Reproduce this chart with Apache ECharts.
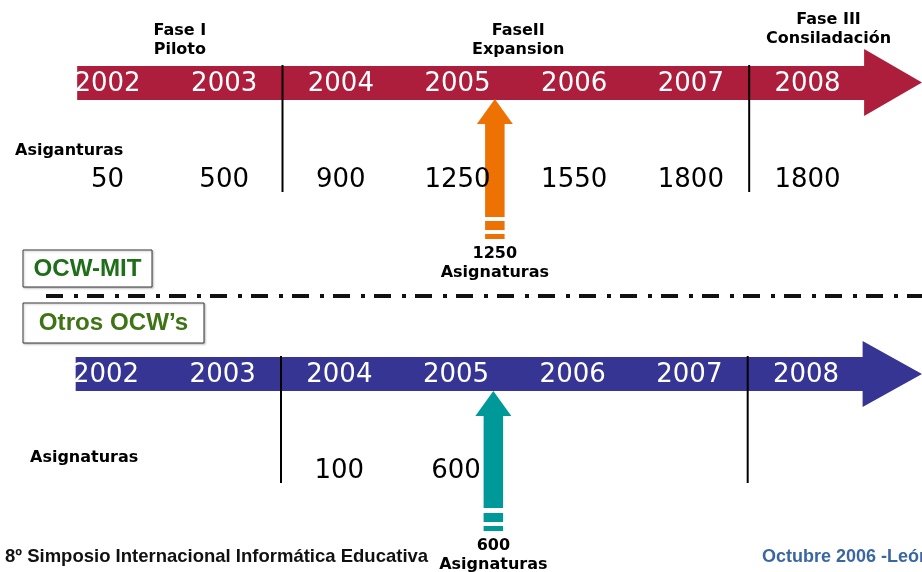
<!DOCTYPE html>
<html><head><meta charset="utf-8">
<script src="https://cdn.jsdelivr.net/npm/echarts@6/dist/echarts.min.js"></script>
<style>html,body{margin:0;padding:0;background:#fff}#c{width:922px;height:572px}</style>
</head><body><div id="c"></div>
<script>
// ---------------- data ----------------
const yearLabels = ['2002', '2003', '2004', '2005', '2006', '2007', '2008'];
const years = [2002, 2003, 2004, 2005, 2006, 2007, 2008];
const mitCourses = [50, 500, 900, 1250, 1550, 1800, 1800];
const otherCourses = [null, null, 100, 600, null, null, null];
const phaseNames = ['Fase I\nPiloto', 'FaseII\nExpansion', 'Fase III\nConsiladación'];
const phaseCenters = [2002.62, 2005.52, 2008.18];
const phaseBreaks = [2003.5, 2007.5];
const highlightYears = [2005.32, 2005.32];
const highlightValues = [1250, 600];
const rowTitles = ['Asiganturas', 'Asignaturas'];
const programmeNames = ['OCW-MIT', 'Otros OCW\u2019s'];
const footerLeft = '8º Simposio Internacional Informática Educativa';
const footerRight = 'Octubre 2006 -León';

// ---------------- layout / style ----------------
const PX_PER_YEAR = 116.67;
const X_MIN = 2002 - 107.5 / PX_PER_YEAR;
const X_MAX = X_MIN + 922 / PX_PER_YEAR;
const FONT = '"DejaVu Sans", Verdana, sans-serif';
const ARIAL = '"Liberation Sans", Arial, sans-serif';
const TRACKS = [
  { color: '#AD1E3C', barTop: 66, barBottom: 100, headTop: 49, headBottom: 116,
    yearY: 84, valueY: 180, divTop: 65, divBottom: 192, shift: 0,
    start: 2001.74, headBase: 2008.485,
    arrowColor: '#EE7203', tip: 99, arrowBase: 124, shaftEnd: 217,
    stripes: [[221, 230], [234, 239]], labelY: 253, titleX: 15, titleY: 151 },
  { color: '#363594', barTop: 357, barBottom: 391, headTop: 341, headBottom: 407,
    yearY: 375, valueY: 471, divTop: 356, divBottom: 483, shift: -1.5,
    start: 2001.74, headBase: 2008.485,
    arrowColor: '#00999A', tip: 391, arrowBase: 416, shaftEnd: 508,
    stripes: [[513, 522], [526, 531]], labelY: 545, titleX: 30, titleY: 458 }
];
const PHASE_Y = [29, 29, 18];
const valueSets = [mitCourses, otherCourses];

function renderTrack(params, api) {
  const t = TRACKS[params.dataIndex];
  const p = (x, y) => { const c = api.coord([x, y]); return [c[0] + t.shift, c[1]]; };
  const tip = api.coord([X_MAX, (t.headTop + t.headBottom) / 2]);
  const children = [{
    type: 'polygon',
    shape: { points: [p(t.start, t.barTop), p(t.headBase, t.barTop), p(t.headBase, t.headTop), tip,
      p(t.headBase, t.headBottom), p(t.headBase, t.barBottom), p(t.start, t.barBottom)] },
    style: { fill: t.color }
  }];
  phaseBreaks.forEach(b => {
    const a = p(b, t.divTop), c = p(b, t.divBottom);
    children.push({ type: 'line', shape: { x1: a[0], y1: a[1], x2: c[0], y2: c[1] },
      style: { stroke: '#000', lineWidth: 2 } });
  });
  return { type: 'group', children };
}

function renderHighlight(params, api) {
  const t = TRACKS[params.dataIndex];
  const year = api.value(0);
  const cx = api.coord([year, 0])[0] + t.shift;
  const y = v => api.coord([year, v])[1];
  const hh = 18, hs = 9.75;
  const children = [{
    type: 'polygon',
    shape: { points: [[cx, y(t.tip)], [cx + hh, y(t.arrowBase)], [cx + hs, y(t.arrowBase)], [cx + hs, y(t.shaftEnd)],
      [cx - hs, y(t.shaftEnd)], [cx - hs, y(t.arrowBase)], [cx - hh, y(t.arrowBase)]] },
    style: { fill: t.arrowColor }
  }];
  t.stripes.forEach(s => children.push({ type: 'rect',
    shape: { x: cx - hs, y: y(s[0]), width: hs * 2, height: y(s[1]) - y(s[0]) }, style: { fill: t.arrowColor } }));
  children.push({ type: 'text', style: { text: api.value(1) + '\nAsignaturas', x: cx, y: y(t.labelY) - 9,
    align: 'center', verticalAlign: 'top', font: 'bold 16px ' + FONT, lineHeight: 19, fill: '#000' } });
  return { type: 'group', children };
}

function textSeries(data, label) {
  return {
    type: 'scatter', data, symbol: 'circle', symbolSize: 1, silent: true,
    itemStyle: { color: 'rgba(0,0,0,0)', opacity: 1 },
    label: Object.assign({ show: true, position: 'inside', formatter: p => p.value[2],
      fontFamily: FONT, fontSize: 26, align: 'center', verticalAlign: 'middle', opacity: 1,
      textBorderWidth: 0 }, label),
    emphasis: { disabled: true }, z: 5
  };
}

const series = [
  { type: 'custom', renderItem: renderTrack, data: [[2002, 0], [2002, 1]], silent: true, clip: false, z: 1 },
  { type: 'custom', renderItem: renderHighlight,
    data: highlightYears.map((y, i) => [y, highlightValues[i]]), silent: true, clip: false, z: 2 }
];
TRACKS.forEach((t, k) => {
  series.push(textSeries(years.map((y, i) => [y, t.yearY, yearLabels[i]]),
    { color: '#ffffff', offset: [t.shift, 0] }));
  series.push(textSeries(years.map((y, i) => [y, t.valueY, valueSets[k][i]]).filter(d => d[2] != null),
    { color: '#000000', offset: [t.shift, 0] }));
});
series.push(textSeries(phaseCenters.map((x, i) => [x, PHASE_Y[i], phaseNames[i]]),
  { color: '#000000', fontSize: 16, fontWeight: 'bold', lineHeight: 19, verticalAlign: 'top', offset: [0, -8] }));

const graphic = [];
TRACKS.forEach((t, k) => graphic.push({ type: 'text', x: t.titleX, y: t.titleY,
  style: { text: rowTitles[k], font: 'bold 16px ' + FONT, fill: '#000', verticalAlign: 'middle' } }));
const boxes = [{ x: 23, y: 250, w: 129, h: 37, color: '#1F6E1A' }, { x: 23, y: 303, w: 181, h: 40, color: '#3E7316' }];
boxes.forEach((b, k) => {
  graphic.push({ type: 'rect', shape: { x: b.x, y: b.y, width: b.w, height: b.h },
    style: { fill: '#fff', stroke: '#3a3a3a', lineWidth: 1, shadowColor: 'rgba(0,0,0,0.25)', shadowBlur: 2, shadowOffsetX: 1, shadowOffsetY: 1 } });
  graphic.push({ type: 'text', x: b.x + b.w / 2, y: b.y + b.h / 2 + 1, scaleX: 1.05,
    style: { text: programmeNames[k], font: 'bold 23px ' + ARIAL, fill: b.color, align: 'center', verticalAlign: 'middle',
      textShadowColor: 'rgba(0,0,0,0.25)', textShadowOffsetX: 1, textShadowOffsetY: 1 } });
});
graphic.push({ type: 'line', shape: { x1: 46, y1: 296, x2: 922, y2: 296 },
  style: { stroke: '#111', lineWidth: 4, lineDash: [17, 11, 4, 9] } });
graphic.push({ type: 'text', x: 5, y: 557, style: { text: footerLeft, font: 'bold 18.5px ' + ARIAL, fill: '#111', verticalAlign: 'middle' } });
graphic.push({ type: 'text', x: 762, y: 557, style: { text: footerRight, font: 'bold 18px ' + ARIAL, fill: '#3A67A2', verticalAlign: 'middle' } });

const chart = echarts.init(document.getElementById('c'), null, { renderer: 'canvas' });
chart.setOption({
  animation: false,
  backgroundColor: '#fff',
  grid: { left: 0, right: 0, top: 0, bottom: 0 },
  xAxis: { type: 'value', min: X_MIN, max: X_MAX, show: false },
  yAxis: { type: 'value', min: 0, max: 572, inverse: true, show: false },
  series,
  graphic
});
</script></body></html>
